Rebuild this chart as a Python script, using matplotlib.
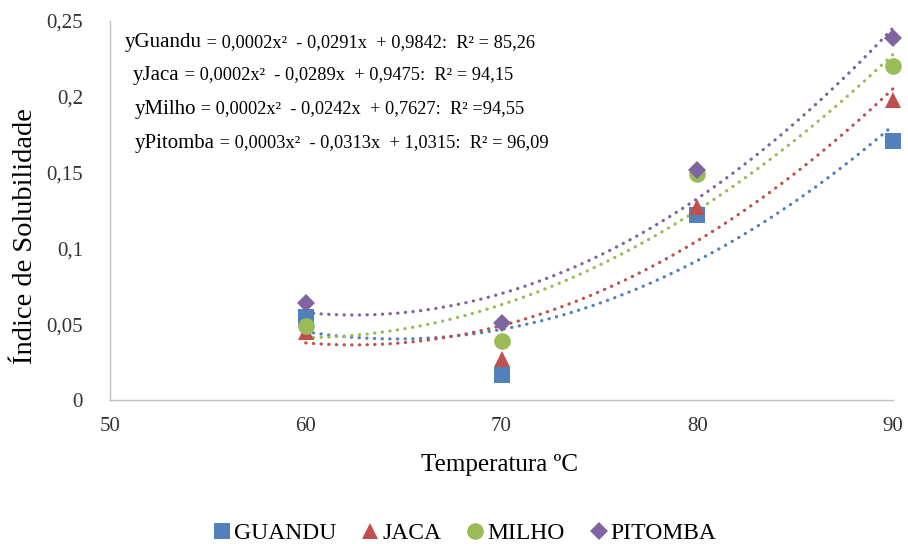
import numpy as np
import matplotlib
matplotlib.use("Agg")
import matplotlib.pyplot as plt

plt.rcParams['font.family'] = ['Liberation Serif', 'DejaVu Serif']

temps = [60, 70, 80, 90]
guandu = [0.055, 0.0165, 0.122, 0.171]
jaca = [0.045, 0.027, 0.127, 0.198]
milho = [0.049, 0.039, 0.149, 0.220]
pitomba = [0.064, 0.051, 0.152, 0.239]

series_names = ["GUANDU", "JACA", "MILHO", "PITOMBA"]
colors = ["#4F81BD", "#C0504D", "#9BBB59", "#8064A2"]
markers = ["s", "^", "o", "D"]
msizes = [11, 12, 12, 9]

eq_names = ["yGuandu", "yJaca", "yMilho", "yPitomba"]
eq_bodies = [
    " = 0,0002x²  - 0,0291x  + 0,9842:  R² = 85,26",
    " = 0,0002x²  - 0,0289x  + 0,9475:  R² = 94,15",
    " = 0,0002x²  - 0,0242x  + 0,7627:  R² =94,55",
    " = 0,0003x²  - 0,0313x  + 1,0315:  R² = 96,09",
]

fig = plt.figure(figsize=(9.08, 5.44), dpi=100)
ax = fig.add_axes([110/908, 1-400/544, (893-110)/908, (400-21)/544])

data = [guandu, jaca, milho, pitomba]
xs = np.linspace(60, 90, 200)
for vals, c in zip(data, colors):
    coef = np.polyfit(temps, vals, 2)
    ax.plot(xs, np.polyval(coef, xs), linestyle=(0, (0.1, 2.3)), color=c,
            linewidth=2.3, dash_capstyle='round', zorder=2, clip_on=False)
handles = []
for vals, c, m, ms, n in zip(data, colors, markers, msizes, series_names):
    h, = ax.plot(temps, vals, linestyle='none', marker=m, color=c,
                 markersize=ms, markeredgewidth=0, label=n, zorder=3,
                 clip_on=False)
    handles.append(h)

ax.set_xlim(50, 90)
ax.set_ylim(0, 0.25)
ax.set_xticks([50, 60, 70, 80, 90])
ax.set_yticks([0, 0.05, 0.1, 0.15, 0.2, 0.25])
ax.set_yticklabels(["0", "0,05", "0,1", "0,15", "0,2", "0,25"])
ax.tick_params(axis='both', length=0, labelsize=15, colors='#333333')
ax.tick_params(axis='x', pad=12)
ax.tick_params(axis='y', pad=19.5)
for s in ['top', 'right']:
    ax.spines[s].set_visible(False)
for s in ['left', 'bottom']:
    ax.spines[s].set_color('#BFBFBF')
    ax.spines[s].set_linewidth(1)

fig.text(500/908, 1-465/544, "Temperatura ºC", fontsize=18, ha='center', va='center')
fig.text(26/908, 1-236/544, "Índice de Solubilidade", fontsize=20.5, ha='center',
         va='center', rotation=90)

eq_pos = [(125, 43), (133, 75), (135, 109), (135, 143)]
fig.canvas.draw()
renderer = fig.canvas.get_renderer()
for (px, py), nm, body in zip(eq_pos, eq_names, eq_bodies):
    t1 = fig.text(px/908, 1-py/544, nm, fontsize=15, va='center', ha='left')
    bb = t1.get_window_extent(renderer=renderer)
    fig.text(bb.x1/908, 1-py/544, body, fontsize=13.2, va='center', ha='left')

fig.legend(handles=handles, loc='center', bbox_to_anchor=(0.511, 1-533/544),
           ncol=4, frameon=False, fontsize=17, handletextpad=0.05,
           columnspacing=1.0, handlelength=0.9, markerscale=1.0)

fig.savefig("out.png", dpi=100)
